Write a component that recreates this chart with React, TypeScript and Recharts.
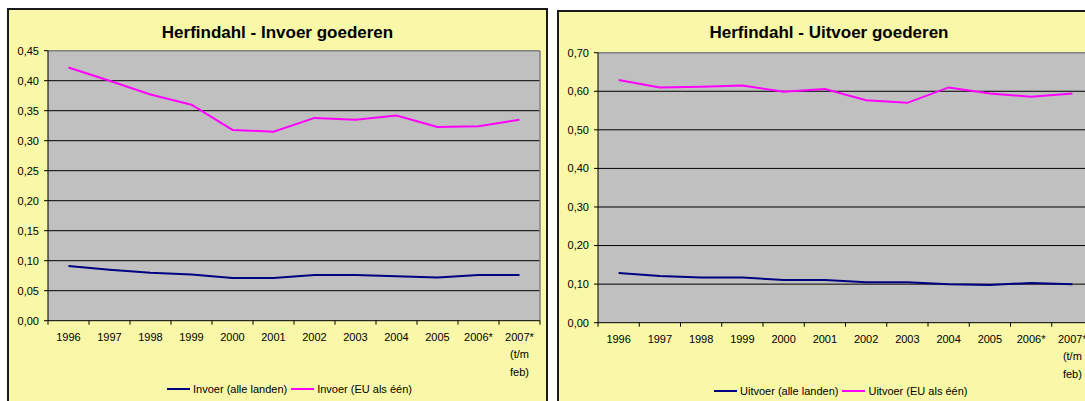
import { LineChart, Line, XAxis, YAxis, CartesianGrid } from "recharts";

const years = ["1996", "1997", "1998", "1999", "2000", "2001", "2002", "2003", "2004", "2005", "2006*", "2007* (t/m feb)"];

// Invoer goederen
const invoerAlle = [0.091, 0.085, 0.08, 0.077, 0.071, 0.071, 0.076, 0.076, 0.074, 0.072, 0.076, 0.076];
const invoerEU = [0.422, 0.4, 0.377, 0.36, 0.318, 0.315, 0.338, 0.335, 0.342, 0.323, 0.324, 0.335];
const invoerTicks = [0, 0.05, 0.1, 0.15, 0.2, 0.25, 0.3, 0.35, 0.4, 0.45];

// Uitvoer goederen
const uitvoerAlle = [0.129, 0.121, 0.117, 0.117, 0.111, 0.111, 0.105, 0.105, 0.1, 0.098, 0.103, 0.1];
const uitvoerEU = [0.629, 0.61, 0.612, 0.615, 0.599, 0.606, 0.577, 0.57, 0.61, 0.594, 0.586, 0.594];
const uitvoerTicks = [0, 0.1, 0.2, 0.3, 0.4, 0.5, 0.6, 0.7];

const FONT = "Arial, 'Liberation Sans', sans-serif";
const NAVY = "#000080";
const MAGENTA = "#FF00FF";

function fmt(v: number) {
  return v.toFixed(2).replace(".", ",");
}

function YearTick(props: any) {
  const { x, y, payload, band, last } = props;
  const lines = String(payload.value).split(" ");
  return (
    <g>
      <line x1={x - band / 2} x2={x - band / 2} y1={y} y2={y + 4} stroke="#000" />
      {last && <line x1={x + band / 2} x2={x + band / 2} y1={y} y2={y + 4} stroke="#000" />}
      {lines.map((l: string, i: number) => (
        <text key={i} x={x} y={y + 16.3 + i * 17.5} dy="0.35em" textAnchor="middle" fontSize={11} fontFamily={FONT} fill="#000">
          {l}
        </text>
      ))}
    </g>
  );
}

interface PanelProps {
  left: number;
  top: number;
  width: number;
  title: string;
  titleY: number;
  names: string[];
  alle: number[];
  eu: number[];
  ticks: number[];
  legendX: number;
}

function Panel({ left, top, width, title, titleY, names, alle, eu, ticks, legendX }: PanelProps) {
  const cw = width - 4;
  const ch = 396;
  const yw = 39;
  const mr = 6;
  const band = (cw - yw - mr) / years.length;
  const max = ticks[ticks.length - 1];
  const data = years.map((year, i) => ({ year, alle: alle[i], eu: eu[i] }));
  const gridTicks = ticks.slice(1, -1);

  return (
    <div
      style={{
        position: "absolute",
        left,
        top,
        width,
        height: 400,
        boxSizing: "border-box",
        border: "2px solid #1a1a1a",
        background: "#F8F8A8",
      }}
    >
      <div
        style={{
          position: "absolute",
          left: 0,
          width: cw,
          top: titleY - 10,
          height: 20,
          lineHeight: "20px",
          textAlign: "center",
          fontFamily: FONT,
          fontWeight: "bold",
          fontSize: 17,
          color: "#000",
        }}
      >
        {title}
      </div>
      <div style={{ position: "absolute", left: 0, top: 0 }}>
        <LineChart width={cw} height={ch} data={data} margin={{ top: 40.7, right: mr, left: 0, bottom: 25.3 }}>
          <CartesianGrid vertical={false} stroke="#000" fill="#C0C0C0" fillOpacity={1} horizontalValues={gridTicks} />
          {/* grey frame: top and right edge of the plot area */}
          <CartesianGrid
            stroke="#808080"
            strokeWidth={1.5}
            horizontalValues={[max]}
            verticalCoordinatesGenerator={({ offset }: any) => [offset.left + offset.width]}
          />
          <XAxis
            dataKey="year"
            height={60}
            interval={0}
            padding={{ left: band / 2, right: band / 2 }}
            tickSize={0}
            tickMargin={0}
            tickLine={false}
            axisLine={{ stroke: "#000" }}
            tick={(p: any) => <YearTick {...p} band={band} last={p.index === years.length - 1} />}
          />
          <YAxis
            width={yw}
            domain={[0, max]}
            ticks={ticks}
            interval={0}
            tickSize={4}
            tickMargin={5}
            tickFormatter={fmt}
            axisLine={{ stroke: "#000" }}
            tickLine={{ stroke: "#000" }}
            tick={{ fontSize: 11, fontFamily: FONT, fill: "#000" }}
          />
          <Line type="linear" dataKey="alle" stroke={NAVY} strokeWidth={2} dot={false} isAnimationActive={false} />
          <Line type="linear" dataKey="eu" stroke={MAGENTA} strokeWidth={2} dot={false} isAnimationActive={false} />
        </LineChart>
      </div>
      <div
        style={{
          position: "absolute",
          left: legendX,
          top: 373,
          display: "flex",
          alignItems: "center",
          fontFamily: FONT,
          fontSize: 11,
          color: "#000",
          whiteSpace: "nowrap",
        }}
      >
        {[NAVY, MAGENTA].map((c, i) => (
          <div key={i} style={{ display: "flex", alignItems: "center", marginRight: 4 }}>
            <span style={{ display: "inline-block", width: 23, height: 2, background: c, marginRight: 3 }} />
            <span>{names[i]}</span>
          </div>
        ))}
      </div>
    </div>
  );
}

export default function App() {
  return (
    <div style={{ position: "absolute", left: 0, top: 0, width: 1085, height: 401, overflow: "hidden", background: "#fff" }}>
      <Panel
        left={7}
        top={8}
        width={541}
        title="Herfindahl - Invoer goederen"
        titleY={23}
        names={["Invoer (alle landen)", "Invoer (EU als één)"]}
        alle={invoerAlle}
        eu={invoerEU}
        ticks={invoerTicks}
        legendX={158}
      />
      <Panel
        left={557}
        top={10}
        width={544}
        title="Herfindahl - Uitvoer goederen"
        titleY={21}
        names={["Uitvoer (alle landen)", "Uitvoer (EU als één)"]}
        alle={uitvoerAlle}
        eu={uitvoerEU}
        ticks={uitvoerTicks}
        legendX={155}
      />
    </div>
  );
}
